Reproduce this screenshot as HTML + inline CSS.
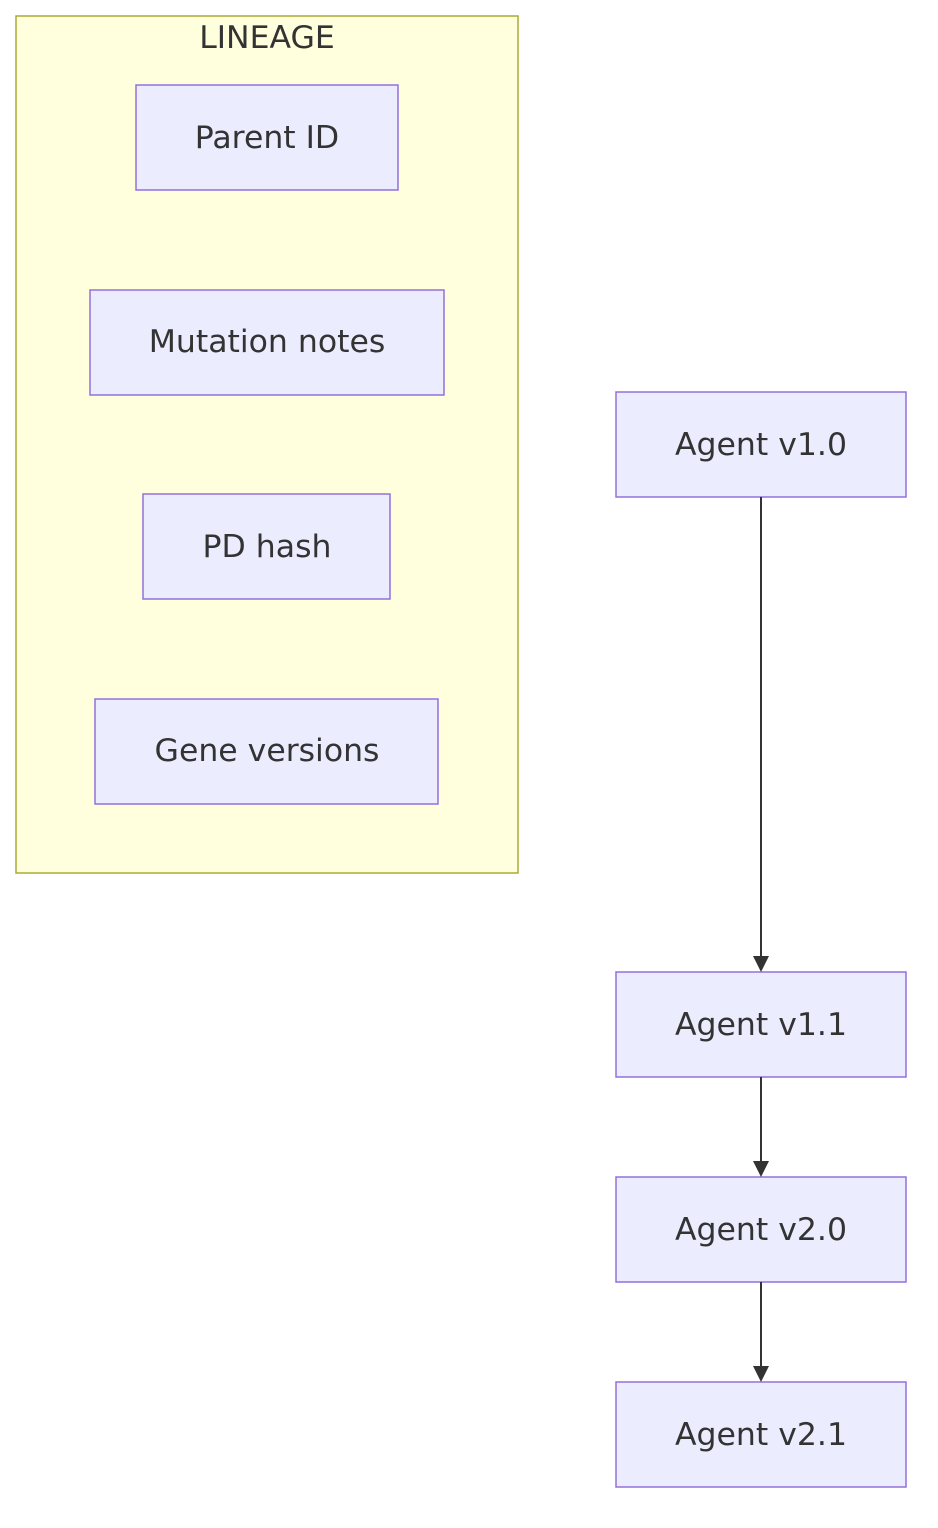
<!DOCTYPE html>
<html><head><meta charset="utf-8"><style>
html,body{margin:0;padding:0;background:#fff;}
svg{display:block;}
text{font-family:"DejaVu Sans","Liberation Sans",sans-serif;font-size:31.5px;fill:#333;}
</style></head><body>
<svg width="938" height="1528" viewBox="0 0 938 1528" xmlns="http://www.w3.org/2000/svg">
<rect x="16" y="16" width="502" height="857" fill="#ffffde" stroke="#aaaa33" stroke-width="1.5"/>
<text x="267" y="48" text-anchor="middle">LINEAGE</text>
<g fill="#ececff" stroke="#9370db" stroke-width="1.5">
<rect x="136" y="85" width="262" height="105"/>
<rect x="90" y="290" width="354" height="105"/>
<rect x="143" y="494" width="247" height="105"/>
<rect x="95" y="699" width="343" height="105"/>
<rect x="616" y="392" width="290" height="105"/>
<rect x="616" y="972" width="290" height="105"/>
<rect x="616" y="1177" width="290" height="105"/>
<rect x="616" y="1382" width="290" height="105"/>
</g>
<g text-anchor="middle">
<text x="267" y="148">Parent ID</text>
<text x="267" y="352">Mutation notes</text>
<text x="267" y="557">PD hash</text>
<text x="267" y="761">Gene versions</text>
<text x="761" y="455">Agent v1.0</text>
<text x="761" y="1035">Agent v1.1</text>
<text x="761" y="1240">Agent v2.0</text>
<text x="761" y="1445">Agent v2.1</text>
</g>
<g stroke="#333" stroke-width="2" fill="none">
<line x1="761" y1="497" x2="761" y2="958"/>
<line x1="761" y1="1077" x2="761" y2="1163"/>
<line x1="761" y1="1282" x2="761" y2="1368"/>
</g>
<g fill="#333">
<path d="M753,956 L769,956 L761,972 Z"/>
<path d="M753,1161 L769,1161 L761,1177 Z"/>
<path d="M753,1366 L769,1366 L761,1382 Z"/>
</g>
</svg>
</body></html>
